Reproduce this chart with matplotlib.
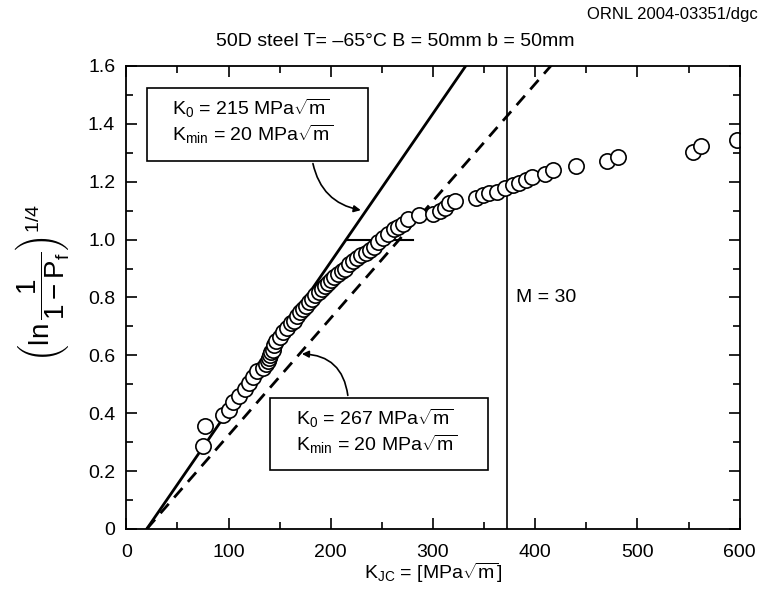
import numpy as np
import matplotlib
matplotlib.use("Agg")
import matplotlib.pyplot as plt
from matplotlib.patches import Rectangle
from matplotlib.ticker import MultipleLocator

plt.rcParams['font.family'] = ['Liberation Sans', 'DejaVu Sans']
plt.rcParams['mathtext.fontset'] = 'custom'
plt.rcParams['mathtext.rm'] = 'Liberation Sans'
plt.rcParams['mathtext.it'] = 'Liberation Sans:italic'
plt.rcParams['mathtext.bf'] = 'Liberation Sans:bold'

# measured toughness values and ranked probability transform
kjc = [75, 77, 95, 100, 104, 110, 116, 120, 124, 128, 134, 137, 139, 140, 141,
       142, 143, 144, 146, 150, 153, 157, 161, 164, 167, 170, 173, 176, 179, 182,
       185, 188, 191, 194, 197, 200, 203, 207, 211, 214, 218, 222, 226, 230, 234,
       238, 242, 246, 251, 256, 262, 266, 271, 276, 286, 300, 307, 312, 316, 322,
       342, 349, 355, 363, 370, 378, 384, 391, 397, 410, 417, 440, 470, 481, 554,
       562, 597]
yval = [0.285, 0.355, 0.395, 0.41, 0.44, 0.46, 0.485, 0.505, 0.525, 0.545, 0.555,
        0.57, 0.58, 0.59, 0.60, 0.61, 0.62, 0.635, 0.65, 0.665, 0.68, 0.695, 0.71,
        0.72, 0.735, 0.75, 0.76, 0.77, 0.785, 0.795, 0.81, 0.82, 0.83, 0.84, 0.85,
        0.86, 0.87, 0.88, 0.89, 0.90, 0.915, 0.925, 0.935, 0.945, 0.955, 0.965,
        0.975, 0.99, 1.005, 1.02, 1.035, 1.045, 1.055, 1.07, 1.085, 1.09, 1.10,
        1.11, 1.125, 1.135, 1.143, 1.153, 1.16, 1.166, 1.178, 1.187, 1.195, 1.207,
        1.216, 1.228, 1.242, 1.256, 1.271, 1.286, 1.303, 1.323, 1.343]

k0_fit = 215
k0_cens = 267
kmin = 20
k_limit = 372

fig = plt.figure(figsize=(7.61, 5.89), dpi=100)
ax = fig.add_axes([0.166, 0.102, 0.806, 0.786])

kk = np.array([kmin, 600])
ax.plot(kk, (kk - kmin) / (k0_fit - kmin), color='black', lw=2)
ax.plot(kk, (kk - kmin) / (k0_cens - kmin), color='black', lw=2, ls=(0, (4.5, 3)))
ax.plot([k0_fit, 280], [1.0, 1.0], color='black', lw=1.5)
ax.axvline(k_limit, color='black', lw=1.2)

ax.plot(kjc, yval, 'o', ms=11, mfc='white', mec='black', mew=1.2)

ax.text(k_limit + 9, 0.785, 'M = 30', fontsize=14)

sq = r'MPa$\sqrt{\mathrm{m}}$'

# upper label box (fit line)
ax.add_patch(Rectangle((20.5, 1.272), 216, 0.252, fc='white', ec='black', lw=1.2,
                       zorder=3))
ax.text(45, 1.455, 'K$_0$ = 215 ' + sq, fontsize=14, va='center', zorder=4)
ax.text(45, 1.365, 'K$_{\\mathrm{min}}$ = 20 ' + sq, fontsize=14, va='center',
        zorder=4)
ax.annotate('', xy=(232, 1.10), xytext=(182, 1.272),
            arrowprops=dict(arrowstyle='-|>', color='black', lw=1.2,
                            connectionstyle='arc3,rad=0.35'))

# lower label box (censored line)
ax.add_patch(Rectangle((141, 0.203), 213, 0.249, fc='white', ec='black', lw=1.2,
                       zorder=3))
ax.text(166, 0.383, 'K$_0$ = 267 ' + sq, fontsize=14, va='center', zorder=4)
ax.text(166, 0.293, 'K$_{\\mathrm{min}}$ = 20 ' + sq, fontsize=14, va='center',
        zorder=4)
ax.annotate('', xy=(169, 0.605), xytext=(217, 0.452),
            arrowprops=dict(arrowstyle='-|>', color='black', lw=1.2,
                            connectionstyle='arc3,rad=0.45'))

ax.set_xlim(0, 600)
ax.set_ylim(0, 1.6)
ax.xaxis.set_major_locator(MultipleLocator(100))
ax.xaxis.set_minor_locator(MultipleLocator(50))
ax.yaxis.set_minor_locator(MultipleLocator(0.1))
ax.set_yticks(np.arange(0, 1.61, 0.2))
ax.set_yticklabels(['0', '0.2', '0.4', '0.6', '0.8', '1.0', '1.2', '1.4', '1.6'])
ax.tick_params(which='both', direction='in', top=True, right=True, labelsize=14,
               width=1.2)
ax.tick_params(which='major', length=8)
ax.tick_params(which='minor', length=5)
ax.tick_params(axis='x', which='major', pad=11)
ax.tick_params(axis='y', which='major', pad=8)
for s in ax.spines.values():
    s.set_linewidth(1.3)

ax.set_xlabel('K$_{\\mathrm{JC}}$ = [' + sq + ']', fontsize=14, labelpad=0)
fig.text(0.055, 0.52,
         r'$\left(\mathrm{ln}\,\dfrac{1}{1-\mathrm{P_f}}\right)^{1/4}$',
         fontsize=20, rotation=90, ha='center', va='center')

fig.text(0.52, 0.93, '50D steel T= \u201365\u00b0C B = 50mm b = 50mm',
         fontsize=14, ha='center', va='center')
fig.text(0.996, 0.975, 'ORNL 2004-03351/dgc', fontsize=12, ha='right', va='center')

fig.savefig('out.png', dpi=100)
